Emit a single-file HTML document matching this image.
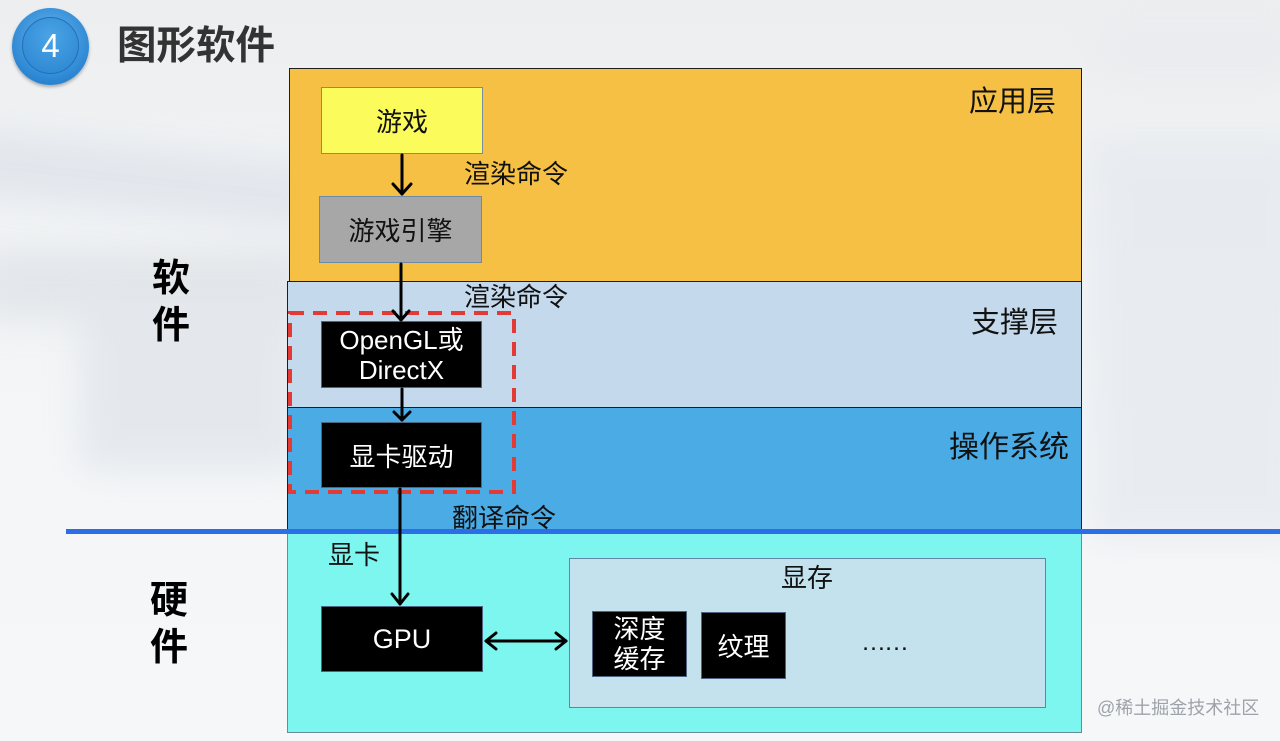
<!DOCTYPE html>
<html><head><meta charset="utf-8">
<style>
*{margin:0;padding:0;box-sizing:border-box}
html,body{width:1280px;height:741px;overflow:hidden}
body{position:relative;background:linear-gradient(180deg,#eceef0 0%,#f1f3f5 30%,#f4f6f8 60%,#f6f7f9 100%);font-family:"Liberation Sans","Noto Sans CJK SC",sans-serif;}
.abs{position:absolute}
.blob{position:absolute;filter:blur(18px);}
.layer{position:absolute;border:1.5px solid #1e1e1e}
.box{position:absolute;display:flex;align-items:center;justify-content:center;text-align:center;font-size:26px;color:#111;}
.blk{background:#000;color:#fff;border:1.5px solid #4b6583}
.lbl{position:absolute;font-size:26px;color:#111;white-space:nowrap;line-height:1}
.side{position:absolute;font-size:38px;font-weight:bold;color:#000;line-height:47px;width:44px;text-align:center}
</style></head><body>
<!-- faded background shapes -->
<div class="blob" style="left:-40px;top:150px;width:360px;height:60px;background:#dde3ea;opacity:.8;transform:rotate(6deg)"></div>
<div class="blob" style="left:-20px;top:250px;width:330px;height:70px;background:#dfe3e7;opacity:.8"></div>
<div class="blob" style="left:80px;top:300px;width:220px;height:170px;background:#e1e5ea;opacity:.8"></div>
<div class="blob" style="left:1090px;top:140px;width:220px;height:400px;background:#e4e8ed;opacity:.7"></div>
<div class="blob" style="left:1100px;top:20px;width:200px;height:60px;background:#e8eaed;opacity:.6"></div>

<!-- title -->
<div class="abs" style="left:12px;top:8px;width:77px;height:77px;border-radius:50%;background:radial-gradient(circle at 50% 40%,#6cb8ee,#2b86d3 70%,#1f6fb8);box-shadow:0 2px 3px rgba(0,0,0,.3)"></div>
<div class="abs" style="left:22px;top:17px;width:57px;height:57px;border-radius:50%;background:radial-gradient(circle at 50% 35%,#4aa4e6,#2a83cf);border:1.5px solid #2070b8"></div>
<div class="abs" style="left:22px;top:17px;width:57px;height:57px;line-height:57px;text-align:center;color:#fff;font-size:33px">4</div>
<div class="abs" style="left:117px;top:22px;font-size:39.5px;font-weight:bold;color:#333;line-height:48px;letter-spacing:0">图形软件</div>

<!-- side labels -->
<div class="side" style="left:149px;top:256px">软<br>件</div>
<div class="side" style="left:147px;top:578px">硬<br>件</div>

<!-- layers -->
<div class="layer" style="left:289px;top:68px;width:793px;height:214px;background:#f5c043"></div>
<div class="layer" style="left:287px;top:281px;width:795px;height:128px;background:#c5d9ec"></div>
<div class="layer" style="left:287px;top:407px;width:795px;height:128px;background:#4aabe5"></div>
<div class="layer" style="left:287px;top:532px;width:795px;height:201px;background:#7ef6f0;border-color:#6a8a9a"></div>

<!-- blue divider line -->
<div class="abs" style="left:66px;top:529px;width:1214px;height:5px;background:#2c6ee8"></div>

<!-- layer labels -->
<div class="lbl" style="left:969px;top:88px;font-size:29px">应用层</div>
<div class="lbl" style="left:971px;top:309px;font-size:29px">支撑层</div>
<div class="lbl" style="left:949px;top:433px;font-size:30px">操作系统</div>

<!-- boxes -->
<div class="box" style="left:321px;top:87px;width:162px;height:67px;background:#fbfb5c;border:1.5px solid #7a8ca0">游戏</div>
<div class="box" style="left:319px;top:196px;width:163px;height:67px;background:#a7a7a7;border:1.5px solid #6e8aa6">游戏引擎</div>
<div class="box blk" style="left:321px;top:321px;width:161px;height:67px;line-height:30px;font-size:26px">OpenGL或<br>DirectX</div>
<div class="box blk" style="left:321px;top:422px;width:161px;height:66px">显卡驱动</div>
<div class="box blk" style="left:321px;top:606px;width:162px;height:66px;font-size:27px">GPU</div>

<!-- memory -->
<div class="abs" style="left:569px;top:558px;width:477px;height:150px;background:#c4e2ee;border:1.5px solid #5f86a2"></div>
<div class="lbl" style="left:781px;top:565px">显存</div>
<div class="box blk" style="left:592px;top:611px;width:95px;height:66px;line-height:30px">深度<br>缓存</div>
<div class="box blk" style="left:701px;top:612px;width:85px;height:67px">纹理</div>
<div class="lbl" style="left:861px;top:630px;font-size:25px;letter-spacing:-2px">……</div>

<!-- connector labels -->
<div class="lbl" style="left:464px;top:161px">渲染命令</div>
<div class="lbl" style="left:464px;top:284px">渲染命令</div>
<div class="lbl" style="left:452px;top:505px">翻译命令</div>
<div class="lbl" style="left:328px;top:542px">显卡</div>

<!-- red dashed box & arrows -->
<svg class="abs" style="left:0;top:0" width="1280" height="741" viewBox="0 0 1280 741">
  <rect x="290" y="313" width="224" height="179" fill="none" stroke="#e43a35" stroke-width="4" stroke-dasharray="14 9"/>
  <g stroke="#000" stroke-width="3" fill="none" stroke-linecap="round" stroke-linejoin="round">
    <line x1="402" y1="155" x2="402" y2="194"/>
    <polyline points="393,184 402,194 411,184"/>
    <line x1="401" y1="264" x2="401" y2="320"/>
    <polyline points="393,311 401,320 409,311"/>
    <line x1="402" y1="389" x2="402" y2="420"/>
    <polyline points="394,412 402,420 410,412"/>
    <line x1="400" y1="489" x2="400" y2="604"/>
    <polyline points="392,594 400,604 408,594"/>
    <line x1="486" y1="641" x2="566" y2="641"/>
    <polyline points="496,633 486,641 496,649"/>
    <polyline points="556,633 566,641 556,649"/>
  </g>
</svg>

<!-- watermark -->
<div class="lbl" style="left:1097px;top:699px;font-size:18px;color:#9da3a9">@稀土掘金技术社区</div>
</body></html>
